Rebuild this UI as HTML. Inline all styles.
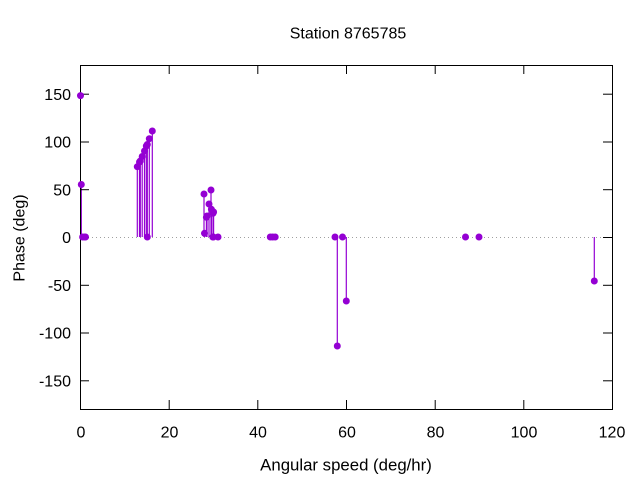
<!DOCTYPE html>
<html><head><meta charset="utf-8"><style>
html,body{margin:0;padding:0;background:#fff;}
svg{display:block;}
text{font-family:"Liberation Sans",sans-serif;font-size:16px;fill:#000;}
</style></head><body>
<svg width="640" height="480" viewBox="0 0 640 480" xmlns="http://www.w3.org/2000/svg">
<rect width="640" height="480" fill="#fff"/>
<!-- zero line -->
<line x1="80" y1="237.5" x2="612" y2="237.5" stroke="#a0a0a0" stroke-width="1" stroke-dasharray="1,3"/>
<!-- stems -->
<g stroke="#9400d3" stroke-width="1.2">
<line x1="81.3" y1="237" x2="81.3" y2="184.5"/>
<line x1="137.3" y1="237" x2="137.3" y2="166.7"/>
<line x1="139.5" y1="237" x2="139.5" y2="162"/>
<line x1="140.3" y1="237" x2="140.3" y2="161"/>
<line x1="142.2" y1="237" x2="142.2" y2="156.5"/>
<line x1="144.5" y1="237" x2="144.5" y2="151"/>
<line x1="146.3" y1="237" x2="146.3" y2="146"/>
<line x1="147.3" y1="237" x2="147.3" y2="144.5"/>
<line x1="149.3" y1="237" x2="149.3" y2="138.7"/>
<line x1="152.3" y1="237" x2="152.3" y2="131"/>
<line x1="204" y1="237" x2="204" y2="194"/>
<line x1="204.5" y1="237" x2="204.5" y2="233.3"/>
<line x1="206.4" y1="237" x2="206.4" y2="217.3"/>
<line x1="207" y1="237" x2="207" y2="216"/>
<line x1="209" y1="237" x2="209" y2="204"/>
<line x1="211" y1="237" x2="211" y2="190"/>
<line x1="211.4" y1="237" x2="211.4" y2="209.3"/>
<line x1="213" y1="237" x2="213" y2="213.3"/>
<line x1="213.6" y1="237" x2="213.6" y2="212"/>
<line x1="337.3" y1="237" x2="337.3" y2="346"/>
<line x1="346.3" y1="237" x2="346.3" y2="301"/>
<line x1="594.3" y1="237" x2="594.3" y2="281"/>
</g>
<!-- frame -->
<rect x="80.5" y="65.5" width="532" height="344" fill="none" stroke="#000" stroke-width="1"/>
<!-- y ticks -->
<g stroke="#000" stroke-width="1">
<line x1="80" y1="94.2" x2="89" y2="94.2"/><line x1="603" y1="94.2" x2="612" y2="94.2"/>
<line x1="80" y1="142" x2="89" y2="142"/><line x1="603" y1="142" x2="612" y2="142"/>
<line x1="80" y1="189.7" x2="89" y2="189.7"/><line x1="603" y1="189.7" x2="612" y2="189.7"/>
<line x1="80" y1="237.5" x2="89" y2="237.5"/><line x1="603" y1="237.5" x2="612" y2="237.5"/>
<line x1="80" y1="285.3" x2="89" y2="285.3"/><line x1="603" y1="285.3" x2="612" y2="285.3"/>
<line x1="80" y1="333" x2="89" y2="333"/><line x1="603" y1="333" x2="612" y2="333"/>
<line x1="80" y1="380.8" x2="89" y2="380.8"/><line x1="603" y1="380.8" x2="612" y2="380.8"/>
<!-- x ticks -->
<line x1="169.2" y1="409" x2="169.2" y2="400"/><line x1="169.2" y1="65" x2="169.2" y2="74"/>
<line x1="257.8" y1="409" x2="257.8" y2="400"/><line x1="257.8" y1="65" x2="257.8" y2="74"/>
<line x1="346.5" y1="409" x2="346.5" y2="400"/><line x1="346.5" y1="65" x2="346.5" y2="74"/>
<line x1="435.2" y1="409" x2="435.2" y2="400"/><line x1="435.2" y1="65" x2="435.2" y2="74"/>
<line x1="523.8" y1="409" x2="523.8" y2="400"/><line x1="523.8" y1="65" x2="523.8" y2="74"/>
</g>
<!-- y labels -->
<g text-anchor="end">
<text x="71" y="100">150</text>
<text x="71" y="147.7">100</text>
<text x="71" y="195.4">50</text>
<text x="71" y="243.2">0</text>
<text x="71" y="291">-50</text>
<text x="71" y="338.7">-100</text>
<text x="71" y="386.5">-150</text>
</g>
<!-- x labels -->
<g text-anchor="middle">
<text x="81" y="437.5">0</text>
<text x="169.5" y="437.5">20</text>
<text x="258" y="437.5">40</text>
<text x="347" y="437.5">60</text>
<text x="435.5" y="437.5">80</text>
<text x="524" y="437.5">100</text>
<text x="612" y="437.5">120</text>
</g>
<text x="348" y="38.7" text-anchor="middle">Station 8765785</text>
<text x="346" y="470.5" text-anchor="middle" style="font-size:16.8px">Angular speed (deg/hr)</text>
<text transform="translate(24.5,238) rotate(-90)" text-anchor="middle">Phase (deg)</text>
<!-- markers -->
<g fill="#9400d3">
<circle cx="80.5" cy="95.6" r="3.5"/>
<circle cx="81.3" cy="184.5" r="3.5"/>
<circle cx="82.6" cy="237" r="3.5"/>
<circle cx="84.5" cy="237" r="3.5"/>
<circle cx="85.5" cy="237" r="3.5"/>
<circle cx="137.3" cy="166.7" r="3.5"/>
<circle cx="139.5" cy="162" r="3.5"/>
<circle cx="140.3" cy="161" r="3.5"/>
<circle cx="142.2" cy="156.5" r="3.5"/>
<circle cx="144.5" cy="151" r="3.5"/>
<circle cx="146.3" cy="146" r="3.5"/>
<circle cx="147.3" cy="144.5" r="3.5"/>
<circle cx="149.3" cy="138.7" r="3.5"/>
<circle cx="152.3" cy="131" r="3.5"/>
<circle cx="147.3" cy="237" r="3.5"/>
<circle cx="204" cy="194" r="3.5"/>
<circle cx="204.5" cy="233.3" r="3.5"/>
<circle cx="206.4" cy="217.3" r="3.5"/>
<circle cx="207" cy="216" r="3.5"/>
<circle cx="209" cy="204" r="3.5"/>
<circle cx="211" cy="190" r="3.5"/>
<circle cx="211.4" cy="209.3" r="3.5"/>
<circle cx="213" cy="213.3" r="3.5"/>
<circle cx="213.6" cy="212" r="3.5"/>
<circle cx="212.8" cy="237" r="3.5"/>
<circle cx="213.4" cy="237" r="3.5"/>
<circle cx="218" cy="237" r="3.5"/>
<circle cx="270.3" cy="237" r="3.5"/>
<circle cx="272.7" cy="237" r="3.5"/>
<circle cx="275.2" cy="237" r="3.5"/>
<circle cx="335" cy="237" r="3.5"/>
<circle cx="337.3" cy="346" r="3.5"/>
<circle cx="342.5" cy="237" r="3.5"/>
<circle cx="346.3" cy="301" r="3.5"/>
<circle cx="465.5" cy="237" r="3.5"/>
<circle cx="479" cy="237" r="3.5"/>
<circle cx="594.3" cy="281" r="3.5"/>
</g>
</svg>
</body></html>
